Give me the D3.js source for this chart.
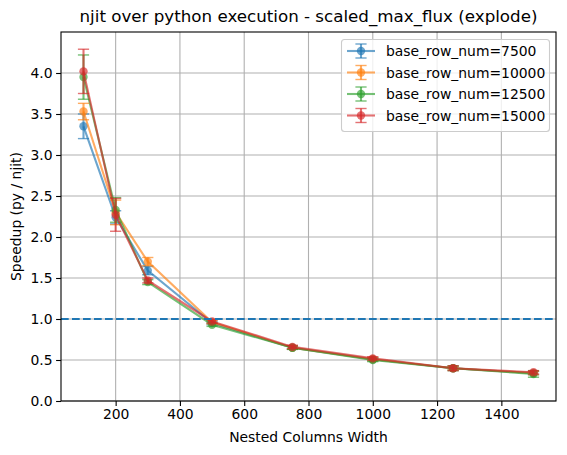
<!DOCTYPE html>
<html><head><meta charset="utf-8">
<script src="https://cdn.jsdelivr.net/npm/d3@7"></script>
<style>body{margin:0;background:#fff}svg{display:block;font-family:"DejaVu Sans",sans-serif}</style>
</head><body>
<svg id="c" width="567" height="455"></svg>
<script>
const widths = [100, 200, 300, 500, 750, 1000, 1250, 1500];
const seriesNames = ["base_row_num=7500", "base_row_num=10000", "base_row_num=12500", "base_row_num=15000"];
const speed7500  = [3.35, 2.24, 1.59, 0.95, 0.65, 0.51, 0.40, 0.34];
const speed10000 = [3.53, 2.30, 1.70, 0.96, 0.65, 0.51, 0.40, 0.34];
const speed12500 = [3.95, 2.33, 1.45, 0.93, 0.65, 0.50, 0.40, 0.33];
const speed15000 = [4.02, 2.27, 1.47, 0.97, 0.66, 0.52, 0.40, 0.35];
const err7500  = [0.15, 0.08, 0.05, 0.02, 0.02, 0.02, 0.02, 0.02];
const err10000 = [0.10, 0.15, 0.05, 0.02, 0.02, 0.02, 0.02, 0.02];
const err12500 = [0.27, 0.15, 0.03, 0.02, 0.02, 0.02, 0.03, 0.04];
const err15000 = [0.27, 0.20, 0.03, 0.02, 0.02, 0.02, 0.03, 0.02];
const colors = ["#1f77b4", "#ff7f0e", "#2ca02c", "#d62728"];
const xTicks = [200, 400, 600, 800, 1000, 1200, 1400];
const yTicks = [0.0, 0.5, 1.0, 1.5, 2.0, 2.5, 3.0, 3.5, 4.0];
const refLine = 1.0;
const titleText = "njit over python execution - scaled_max_flux (explode)";
const xLabel = "Nested Columns Width";
const yLabel = "Speedup (py / njit)";

const series = [
  {name: seriesNames[0], v: speed7500, e: err7500, c: colors[0]},
  {name: seriesNames[1], v: speed10000, e: err10000, c: colors[1]},
  {name: seriesNames[2], v: speed12500, e: err12500, c: colors[2]},
  {name: seriesNames[3], v: speed15000, e: err15000, c: colors[3]},
];

const L = 61, R = 556, T = 32, B = 401;
const svg = d3.select("#c");
const x = d3.scaleLinear().domain([30, 1570]).range([L, R]);
const y = d3.scaleLinear().domain([0, 4.5]).range([B, T]);
const cap = 5.6;

// grid
const g = svg.append("g");
g.selectAll(".gx").data(xTicks).join("line")
  .attr("x1", d => x(d)).attr("x2", d => x(d)).attr("y1", T).attr("y2", B)
  .attr("stroke", "#b0b0b0").attr("stroke-width", 1.1);
g.selectAll(".gy").data(yTicks).join("line")
  .attr("x1", L).attr("x2", R).attr("y1", d => y(d)).attr("y2", d => y(d))
  .attr("stroke", "#b0b0b0").attr("stroke-width", 1.1);

// series
const op = 0.65;
series.forEach(s => {
  const sg = svg.append("g");
  const pts = widths.map((w, i) => ({w, v: s.v[i], e: s.e[i]}));
  sg.append("path").datum(pts)
    .attr("d", d3.line().x(d => x(d.w)).y(d => y(d.v)))
    .attr("fill", "none").attr("stroke", s.c).attr("stroke-width", 2.1).attr("stroke-opacity", op);
  sg.selectAll(".eb").data(pts).join("line")
    .attr("x1", d => x(d.w)).attr("x2", d => x(d.w))
    .attr("y1", d => y(d.v - d.e)).attr("y2", d => y(d.v + d.e))
    .attr("stroke", s.c).attr("stroke-width", 2.1).attr("stroke-opacity", op);
  ["lo", "hi"].forEach(k => {
    sg.selectAll(".cap" + k).data(pts).join("line")
      .attr("x1", d => x(d.w) - cap).attr("x2", d => x(d.w) + cap)
      .attr("y1", d => y(k === "lo" ? d.v - d.e : d.v + d.e))
      .attr("y2", d => y(k === "lo" ? d.v - d.e : d.v + d.e))
      .attr("stroke", s.c).attr("stroke-width", 1.4).attr("stroke-opacity", op);
  });
  sg.selectAll("circle").data(pts).join("circle")
    .attr("cx", d => x(d.w)).attr("cy", d => y(d.v)).attr("r", 4.2)
    .attr("fill", s.c).attr("fill-opacity", op);
});

// reference dashed line
svg.append("line").attr("x1", L).attr("x2", R).attr("y1", y(refLine)).attr("y2", y(refLine))
  .attr("stroke", "#1f77b4").attr("stroke-width", 2.1).attr("stroke-dasharray", "7.7,3.3");

// frame
svg.append("rect").attr("x", L).attr("y", T).attr("width", R - L).attr("height", B - T)
  .attr("fill", "none").attr("stroke", "#000").attr("stroke-width", 1.1);

// axes
const xa = svg.append("g").attr("transform", `translate(0,${B})`)
  .call(d3.axisBottom(x).tickValues(xTicks).tickFormat(d3.format("d")).tickSize(4.9).tickPadding(3.5));
const ya = svg.append("g").attr("transform", `translate(${L},0)`)
  .call(d3.axisLeft(y).tickValues(yTicks).tickFormat(d3.format(".1f")).tickSize(4.9).tickPadding(3.5));
[xa, ya].forEach(a => {
  a.select(".domain").remove();
  a.selectAll(".tick line").attr("stroke", "#000").attr("stroke-width", 1.1);
  a.selectAll("text").attr("font-size", "13.9px").attr("fill", "#000").attr("font-family", "DejaVu Sans");
});

// labels
svg.append("text").attr("x", (L + R) / 2).attr("y", 22).attr("text-anchor", "middle")
  .attr("font-size", "16.7px").text(titleText);
svg.append("text").attr("x", (L + R) / 2).attr("y", 442).attr("text-anchor", "middle")
  .attr("font-size", "13.9px").text(xLabel);
svg.append("text").attr("transform", `translate(21,${(T + B) / 2}) rotate(-90)`).attr("text-anchor", "middle")
  .attr("font-size", "13.9px").text(yLabel);

// legend
const lg = svg.append("g");
lg.append("rect").attr("x", 341.5).attr("y", 39.5).attr("width", 208).attr("height", 92).attr("rx", 3)
  .attr("fill", "#fff").attr("fill-opacity", 0.8).attr("stroke", "#cccccc").attr("stroke-width", 1.1);
series.forEach((s, i) => {
  const yy = 51 + i * 21.5;
  const it = lg.append("g");
  it.append("line").attr("x1", 347).attr("x2", 375).attr("y1", yy).attr("y2", yy)
    .attr("stroke", s.c).attr("stroke-width", 2.1).attr("stroke-opacity", op);
  it.append("line").attr("x1", 361).attr("x2", 361).attr("y1", yy - 7).attr("y2", yy + 7)
    .attr("stroke", s.c).attr("stroke-width", 2.1).attr("stroke-opacity", op);
  [-7, 7].forEach(o => it.append("line").attr("x1", 361 - cap).attr("x2", 361 + cap).attr("y1", yy + o).attr("y2", yy + o)
    .attr("stroke", s.c).attr("stroke-width", 1.4).attr("stroke-opacity", op));
  it.append("circle").attr("cx", 361).attr("cy", yy).attr("r", 4.2).attr("fill", s.c).attr("fill-opacity", op);
  it.append("text").attr("x", 386).attr("y", yy + 5).attr("font-size", "13.9px").text(s.name);
});
</script>
</body></html>
